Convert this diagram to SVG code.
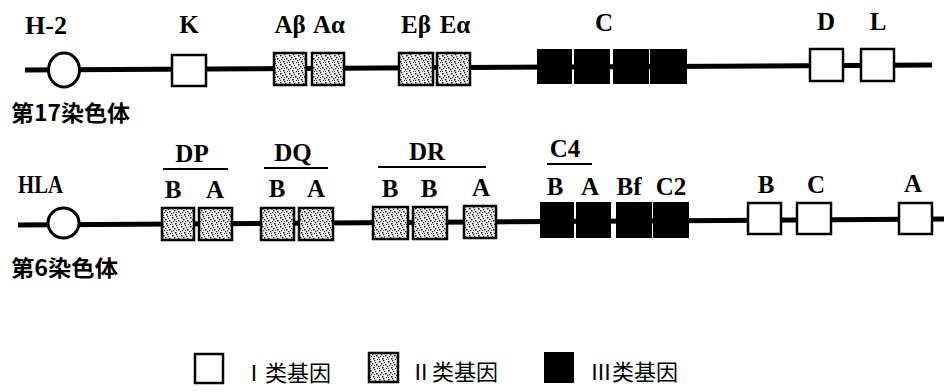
<svg xmlns="http://www.w3.org/2000/svg" width="944" height="392" viewBox="0 0 944 392">
  <defs>
    <!-- stippled fill for class II genes -->
    <pattern id="stipple" width="9" height="9" patternUnits="userSpaceOnUse">
      <rect width="9" height="9" fill="#eeeeee"/>
      <rect x="1" y="1" width="1.5" height="1.5" fill="#111"/>
      <rect x="5" y="0" width="1.3" height="1.3" fill="#222"/>
      <rect x="3" y="3" width="1.4" height="1.4" fill="#111"/>
      <rect x="7" y="4" width="1.5" height="1.5" fill="#111"/>
      <rect x="0" y="6" width="1.3" height="1.3" fill="#222"/>
      <rect x="4" y="7" width="1.5" height="1.5" fill="#111"/>
      <rect x="8" y="8" width="1" height="1" fill="#333"/>
      <rect x="2" y="5" width="1.2" height="1.2" fill="#333"/>
      <rect x="6" y="2" width="1.2" height="1.2" fill="#333"/>
      <rect x="5" y="5" width="1" height="1" fill="#444"/>
      <rect x="1" y="8" width="1" height="1" fill="#444"/>
    </pattern>
  </defs>
  <style>
    .chrom { stroke: #000; stroke-width: 5; fill: none; }
    .cen { fill: #fff; stroke: #000; stroke-width: 3; }
    .g1 { fill: #fff; stroke: #000; stroke-width: 2.5; }
    .g2 { fill: url(#stipple); stroke: #000; stroke-width: 2.5; }
    .g3 { fill: #000; stroke: #000; stroke-width: 2; }
    .bar { stroke: #000; stroke-width: 2; }
    .lbl { font-family: "Liberation Serif", "DejaVu Serif", serif; font-weight: bold; font-size: 25px; fill: #000; text-anchor: middle; }
    .lblL { font-family: "Liberation Serif", "DejaVu Serif", serif; font-weight: bold; font-size: 25px; fill: #000; }
    .cjk { font-family: "Noto Sans CJK SC", "Noto Sans", sans-serif; font-size: 22px; fill: #000; }
    .chr { font-weight: bold; }
  </style>

  <rect width="944" height="392" fill="#fff"/>

  <!-- chromosome lines -->
  <g id="connectors">
    <line class="chrom" x1="25" y1="70" x2="932" y2="65"/>
    <line class="chrom" x1="18" y1="225" x2="944" y2="219"/>
  </g>

  <!-- mouse H-2 on chromosome 17 -->
  <g id="h2">
    <text class="lblL" x="25" y="34" font-weight="normal" textLength="42" lengthAdjust="spacingAndGlyphs">H-2</text>
    <text class="cjk chr" x="11" y="121" textLength="119" lengthAdjust="spacingAndGlyphs">第17染色体</text>
  </g>
  <g id="h2-centromere"><ellipse class="cen" cx="64" cy="70" rx="15.5" ry="17"/></g>
  <g id="h2-K">
    <rect class="g1" x="172" y="55" width="34" height="31"/>
    <text class="lbl" x="189" y="33">K</text>
  </g>
  <g id="h2-A">
    <rect class="g2" x="274" y="53" width="32" height="32"/>
    <rect class="g2" x="312" y="53" width="32" height="32"/>
    <text class="lbl" x="290" y="33">Aβ</text>
    <text class="lbl" x="329" y="33">Aα</text>
  </g>
  <g id="h2-E">
    <rect class="g2" x="399" y="53" width="34" height="32"/>
    <rect class="g2" x="437" y="53" width="33" height="32"/>
    <text class="lbl" x="416" y="33">Eβ</text>
    <text class="lbl" x="455" y="33">Eα</text>
  </g>
  <g id="h2-C">
    <rect class="g3" x="538" y="50" width="33" height="33"/>
    <rect class="g3" x="575" y="50" width="34" height="33"/>
    <rect class="g3" x="614" y="50" width="34" height="33"/>
    <rect class="g3" x="651" y="50" width="35" height="33"/>
    <text class="lbl" x="604" y="31">C</text>
  </g>
  <g id="h2-D">
    <rect class="g1" x="810" y="49" width="33" height="32"/>
    <text class="lbl" x="826" y="30">D</text>
  </g>
  <g id="h2-L">
    <rect class="g1" x="861" y="49" width="33" height="32"/>
    <text class="lbl" x="878" y="30">L</text>
  </g>

  <!-- human HLA on chromosome 6 -->
  <g id="hla">
    <text class="lblL" x="18" y="193" textLength="45" lengthAdjust="spacingAndGlyphs">HLA</text>
    <text class="cjk chr" x="11" y="276" textLength="107" lengthAdjust="spacingAndGlyphs">第6染色体</text>
  </g>
  <g id="hla-centromere"><ellipse class="cen" cx="63.5" cy="223" rx="15.5" ry="15"/></g>
  <g id="hla-DP">
    <text class="lbl" x="192" y="162">DP</text>
    <line class="bar" x1="163" y1="169" x2="228" y2="169"/>
    <text class="lbl" x="173" y="198">B</text>
    <text class="lbl" x="215" y="198">A</text>
    <rect class="g2" x="162" y="208" width="32" height="32"/>
    <rect class="g2" x="199" y="208" width="33" height="32"/>
  </g>
  <g id="hla-DQ">
    <text class="lbl" x="293" y="161">DQ</text>
    <line class="bar" x1="264" y1="168" x2="328" y2="168"/>
    <text class="lbl" x="277" y="197">B</text>
    <text class="lbl" x="316" y="197">A</text>
    <rect class="g2" x="261" y="208" width="33" height="32"/>
    <rect class="g2" x="299" y="208" width="34" height="32"/>
  </g>
  <g id="hla-DR">
    <text class="lbl" x="427" y="160">DR</text>
    <line class="bar" x1="378" y1="167" x2="486" y2="167"/>
    <text class="lbl" x="390" y="197">B</text>
    <text class="lbl" x="429" y="197">B</text>
    <text class="lbl" x="481" y="196">A</text>
    <rect class="g2" x="373" y="207" width="35" height="32"/>
    <rect class="g2" x="413" y="207" width="34" height="32"/>
    <rect class="g2" x="464" y="206" width="32" height="32"/>
  </g>
  <g id="hla-C4">
    <text class="lbl" x="565" y="157">C4</text>
    <line class="bar" x1="547" y1="164" x2="592" y2="164"/>
    <text class="lbl" x="555" y="195">B</text>
    <text class="lbl" x="590" y="195">A</text>
    <rect class="g3" x="541" y="203" width="32" height="34"/>
    <rect class="g3" x="577" y="203" width="33" height="34"/>
  </g>
  <g id="hla-Bf">
    <text class="lbl" x="629" y="195">Bf</text>
    <rect class="g3" x="617" y="203" width="34" height="34"/>
  </g>
  <g id="hla-C2">
    <text class="lbl" x="671" y="195">C2</text>
    <rect class="g3" x="654" y="203" width="34" height="34"/>
  </g>
  <g id="hla-B">
    <text class="lbl" x="766" y="193">B</text>
    <rect class="g1" x="748" y="203" width="33" height="31"/>
  </g>
  <g id="hla-C">
    <text class="lbl" x="816" y="193">C</text>
    <rect class="g1" x="797" y="203" width="34" height="31"/>
  </g>
  <g id="hla-A">
    <text class="lbl" x="913" y="192">A</text>
    <rect class="g1" x="899" y="203" width="33" height="31"/>
  </g>

  <!-- legend -->
  <g id="legend-class1">
    <rect class="g1" x="195" y="354" width="28" height="29"/>
    <text class="cjk" x="243" y="381">Ⅰ类基因</text>
  </g>
  <g id="legend-class2">
    <rect class="g2" x="369" y="353" width="29" height="29"/>
    <text class="cjk" x="410" y="380">Ⅱ类基因</text>
  </g>
  <g id="legend-class3">
    <rect class="g3" x="545" y="353" width="28" height="29"/>
    <text class="cjk" x="590" y="380">Ⅲ类基因</text>
  </g>
</svg>
